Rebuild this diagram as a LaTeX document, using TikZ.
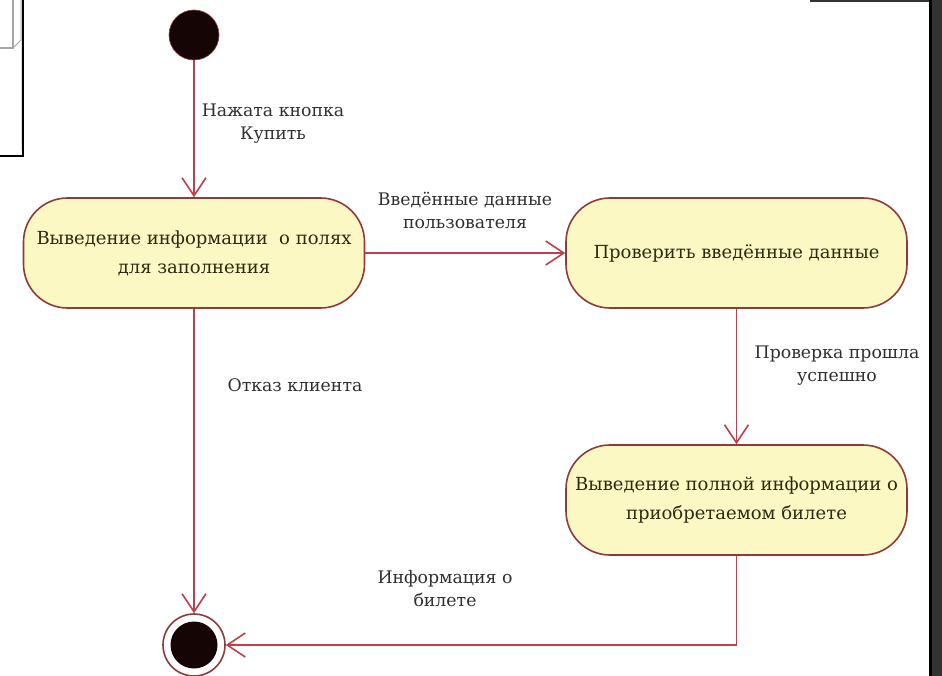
\documentclass[tikz,border=0pt]{standalone}
\usepackage{fontspec}
\setmainfont{DejaVu Serif}
\newfontfamily\diagfont{DejaVu Serif}
\usetikzlibrary{arrows.meta}
\definecolor{nodefill}{HTML}{FCF8C4}
\definecolor{nodeedge}{HTML}{8E3B3B}
\definecolor{linecol}{HTML}{BF3F4A}
\definecolor{nodetext}{HTML}{2A2B10}
\definecolor{labeltext}{HTML}{303030}
\definecolor{dotfill}{HTML}{150505}
\definecolor{darkband}{HTML}{333333}
\begin{document}
\begin{tikzpicture}[x=1pt,y=-1pt,
 state/.style={draw=nodeedge, fill=nodefill, line width=1.6pt, rounded corners=44pt,
   minimum width=341pt, minimum height=110pt, align=center,
   font=\diagfont\fontsize{18}{29}\selectfont, text=nodetext, inner sep=0pt},
 lbl/.style={align=center, font=\diagfont\fontsize{17.3}{23}\selectfont, text=labeltext, inner sep=0pt},
 flow/.style={draw=linecol, line width=1.6pt,
   -{Straight Barb[length=18pt,width=24pt,line width=1.6pt]}},
]
\useasboundingbox (0,0) rectangle (942,676);
% window fragments at the edges
\fill[white] (0,0) rectangle (942,676);
\draw[black, line width=1.6pt] (-2,156) -- (23,156) -- (23,-2);
\draw[gray!70, line width=1.2pt] (13,-2) -- (13,48) -- (-2,48);
\draw[gray!70, line width=1pt] (13,48) -- (21,40) -- (21,-2);
\draw[gray!25, line width=0.8pt] (21,40) -- (21,150);
\fill[darkband] (810,0) rectangle (930,2.5);
\fill[black] (929,0) rectangle (932,676);
\fill[darkband] (932,0) rectangle (942,676);

% nodes
\node[circle, fill=dotfill, draw=nodeedge, line width=0.6pt, minimum size=50pt, inner sep=0pt] (init) at (194,35) {};
\node[state] (n1) at (194,253) {Выведение информации\ \ о полях\\для заполнения};
\node[state] (n2) at (736.5,253) {Проверить введённые данные};
\node[state] (n3) at (736.5,500) {Выведение полной информации о\\приобретаемом билете};
\node[circle, draw=nodeedge, line width=1.6pt, minimum size=62pt, inner sep=0pt] (fin) at (194,645) {};
\node[circle, fill=dotfill, minimum size=47pt, inner sep=0pt] (findot) at (fin) {};

% connectors
\draw[flow] (init.south) -- (n1.north);
\draw[flow] (n1.east) -- (n2.west);
\draw[flow] (n2.south) -- (n3.north);
\draw[flow] (n1.south) -- (fin.north);
\draw[flow] (n3.south) |- (fin.east);

% labels
\node[lbl] (l1) at (273,124) {Нажата кнопка\\Купить};
\node[lbl] (l2) at (465,210) {Введённые данные\\пользователя};
\node[lbl] (l3) at (837,366) {Проверка прошла\\успешно};
\node[lbl] (l4) at (295,385) {Отказ клиента};
\node[lbl] (l5) at (445,589) {Информация о\\билете};
\end{tikzpicture}
\end{document}
